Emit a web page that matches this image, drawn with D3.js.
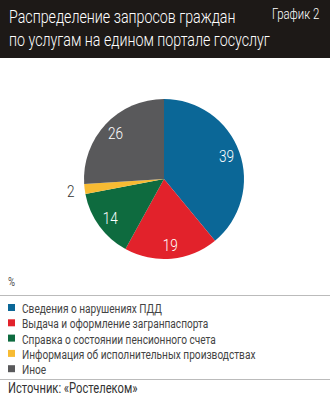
<!DOCTYPE html>
<html>
<head>
<meta charset="utf-8">
<script src="https://cdn.jsdelivr.net/npm/d3@7"></script>
<style>
  body { margin: 0; background: #fff; }
  svg { display: block; font-family: "Roboto", sans-serif; }
</style>
</head>
<body>
<div id="chart"></div>
<script>
const categories = [
  'Сведения о нарушениях ПДД',
  'Выдача и оформление загранпаспорта',
  'Справка о состоянии пенсионного счета',
  'Информация об исполнительных производствах',
  'Иное'
];
const values = [39, 19, 14, 2, 26];
const colors = ['#0b6797', '#e2222b', '#0e6b3f', '#f7bb33', '#59595b'];
const titleLines = ['Распределение запросов граждан', 'по услугам на едином портале госуслуг'];

const width = 330, height = 400;
const svg = d3.select('#chart').append('svg')
  .attr('width', width)
  .attr('height', height);

// the original uses a condensed face; squeeze Roboto horizontally to match.
// text is placed with a translate + horizontal scale instead of x/y.
function place(sel, x, y, k) {
  sel.attr('transform', (d, i) => {
    const px = typeof x === 'function' ? x(d, i) : x;
    const py = typeof y === 'function' ? y(d, i) : y;
    return `translate(${px},${py}) scale(${k},1)`;
  });
}

// dark header band
svg.append('rect').attr('x', 0).attr('y', 0).attr('width', width).attr('height', 58).attr('fill', '#1d1917');
svg.selectAll('.title')
  .data(titleLines)
  .enter()
  .append('text')
  .attr('class', 'title')
  .attr('fill', '#fff')
  .attr('font-size', 19)
  .attr('font-weight', 300)
  .text(d => d)
  .call(place, 9, (d, i) => 23 + i * 23, 0.75);
svg.append('text')
  .attr('fill', '#fff').attr('font-size', 15).attr('font-weight', 300).text('График 2')
  .call(place, 272, 19, 0.76);

// pie
const cx = 164, cy = 179, r = 80;
const pie = d3.pie().sort(null).value(d => d);
const arcs = pie(values);
const arc = d3.arc().innerRadius(0).outerRadius(r);
const labelArc = d3.arc().innerRadius(r * 0.83).outerRadius(r * 0.83);
const g = svg.append('g').attr('transform', `translate(${cx},${cy})`);

g.selectAll('path')
  .data(arcs)
  .enter()
  .append('path')
  .attr('d', arc)
  .attr('fill', (d, i) => colors[i]);

g.selectAll('.lbl')
  .data(arcs)
  .enter()
  .append('text')
  .attr('class', 'lbl')
  .attr('dy', '0.35em')
  .attr('text-anchor', 'middle')
  .attr('font-size', 17)
  .attr('font-weight', 300)
  .attr('fill', d => d.data < 5 ? '#333' : '#fff')
  .text(d => d.data)
  .call(place,
    d => d.data < 5 ? Math.sin((d.startAngle + d.endAngle) / 2) * (r + 14) : labelArc.centroid(d)[0],
    d => d.data < 5 ? -Math.cos((d.startAngle + d.endAngle) / 2) * (r + 14) : labelArc.centroid(d)[1],
    0.8);

// units
svg.append('text').attr('font-size', 12).attr('fill', '#555').text('%')
  .call(place, 8, 286, 0.8);
svg.append('line').attr('x1', 0).attr('x2', width).attr('y1', 295.5).attr('y2', 295.5).attr('stroke', '#bbb');

// legend
const legend = svg.selectAll('.leg')
  .data(categories)
  .enter()
  .append('g')
  .attr('class', 'leg')
  .attr('transform', (d, i) => `translate(0, ${308 + i * 15.3})`);
legend.append('rect').attr('x', 8).attr('y', -4).attr('width', 7).attr('height', 7).attr('fill', (d, i) => colors[i]);
legend.append('text').attr('dy', '0.38em')
  .attr('font-size', 13).attr('fill', '#444').text(d => d)
  .call(place, 22, 0, 0.78);

svg.append('line').attr('x1', 0).attr('x2', width).attr('y1', 379.5).attr('y2', 379.5).attr('stroke', '#bbb');
svg.append('text').attr('font-size', 14).attr('fill', '#333').text('Источник: «Ростелеком»')
  .call(place, 8, 393, 0.8);
</script>
</body>
</html>
